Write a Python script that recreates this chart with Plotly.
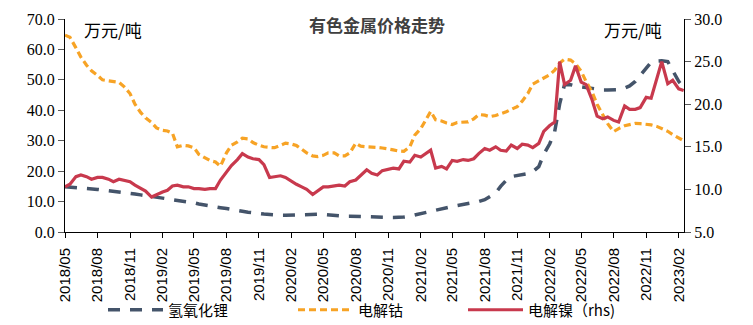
import pandas as pd
import plotly.graph_objects as go

# semi-monthly observation dates (1st and 15th), 2018/05 - 2023/02
dates = pd.date_range("2018-05-01", "2023-02-15", freq="SMS")

# 氢氧化锂 (万元/吨, left axis)
lithium = [
    14.9, 14.8, 14.6, 14.4, 14.3, 14.1, 14.0, 13.8, 13.6, 13.3,
    13.1, 12.9, 12.8, 12.5, 12.2, 12.0, 11.7, 11.4, 11.1, 10.9,
    10.6, 10.4, 10.2, 10.0, 9.6, 9.2, 8.8, 8.5, 8.3, 8.0,
    7.7, 7.5, 7.1, 6.8, 6.5, 6.2, 6.1, 5.9, 5.7, 5.6,
    5.5, 5.5, 5.6, 5.7, 5.8, 5.8, 5.8, 5.8, 5.8, 5.6,
    5.5, 5.3, 5.2, 5.2, 5.1, 5.0, 5.0, 5.0, 4.9, 4.9,
    4.8, 4.8, 4.8, 4.9, 5.2, 5.6, 5.9, 6.4, 6.8, 7.2,
    7.6, 8.0, 8.4, 8.7, 9.0, 9.3, 9.6, 10.0, 10.6, 11.5,
    12.8, 15.0, 17.0, 18.2, 18.5, 18.8, 19.2, 19.8, 21.5, 25.5,
    29.0, 33.0, 42.0, 48.5, 48.4, 48.0, 47.7, 47.4, 47.0, 46.8,
    46.7, 46.7, 46.7, 46.8, 47.3, 48.0, 49.5, 51.5, 53.8, 55.8,
    56.2, 56.3, 56.0, 53.0, 49.5, 47.5,
]

# 电解钴 (万元/吨, left axis)
cobalt = [
    64.7, 64.0, 60.5, 57.5, 54.8, 53.0, 51.5, 50.0, 49.7, 49.5,
    49.2, 47.8, 45.5, 42.0, 39.3, 37.5, 36.0, 34.2, 33.4, 33.2,
    32.5, 28.0, 28.5, 28.3, 27.7, 25.5, 24.5, 23.5, 23.0, 21.6,
    26.0, 28.5, 29.6, 30.8, 30.6, 29.4, 28.5, 28.0, 27.8, 27.7,
    28.5, 29.2, 28.9, 28.4, 27.2, 26.0, 25.0, 24.8, 25.2, 26.0,
    26.0, 25.0, 25.0, 26.0, 29.2, 28.2, 28.0, 28.0, 27.8, 27.6,
    27.4, 27.0, 26.6, 26.5, 28.0, 31.8, 34.0, 37.0, 39.6, 36.9,
    36.5, 35.8, 35.3, 36.0, 36.1, 36.2, 37.2, 38.6, 38.4, 37.9,
    38.3, 38.8, 39.5, 40.3, 41.2, 43.0, 45.5, 48.6, 49.8, 50.8,
    51.7, 53.2, 55.5, 56.8, 56.5, 55.3, 52.8, 49.4, 46.0, 42.0,
    38.5, 35.6, 33.0, 34.0, 34.9, 35.3, 35.7, 35.6, 35.4, 35.2,
    34.7, 34.0, 33.1, 32.0, 31.0, 30.0,
]

# 电解镍 (万元/吨, right axis)
nickel = [
    10.3, 10.6, 11.5, 11.7, 11.5, 11.2, 11.4, 11.4, 11.2, 10.9,
    11.2, 11.1, 10.9, 10.5, 10.1, 9.8, 9.1, 9.4, 9.7, 9.9,
    10.4, 10.5, 10.3, 10.3, 10.1, 10.1, 10.0, 10.1, 10.1, 11.1,
    12.0, 12.8, 13.5, 14.2, 13.8, 13.6, 13.5, 12.9, 11.4, 11.5,
    11.6, 11.4, 10.9, 10.6, 10.3, 10.0, 9.4, 9.8, 10.3, 10.3,
    10.4, 10.5, 10.4, 10.9, 11.1, 11.6, 12.3, 11.9, 11.7, 12.2,
    12.4, 12.5, 12.4, 13.3, 13.2, 14.0, 13.8, 14.2, 14.6, 12.5,
    12.7, 12.4, 13.4, 13.3, 13.5, 13.4, 13.6, 14.2, 14.8, 14.6,
    15.0, 14.6, 14.5, 15.2, 14.8, 15.3, 15.2, 14.9, 15.4, 16.8,
    17.5, 17.9, 25.0, 22.3, 22.8, 24.5, 22.6, 22.3, 20.5, 18.6,
    18.3, 18.5, 18.1, 17.9, 19.8, 19.4, 19.4, 19.6, 20.8, 20.7,
    23.0, 25.0, 22.4, 22.8, 21.8, 21.6,
]

names = ["氢氧化锂", "电解钴", "电解镍（rhs)"]
colors = ["#44546A", "#F7A325", "#C8394D"]

fig = go.Figure()
fig.add_trace(go.Scatter(x=dates, y=lithium, name=names[0], mode="lines",
                         line=dict(color=colors[0], width=3.5, dash="12px,10px"),
                         legend="legend"))
fig.add_trace(go.Scatter(x=dates, y=cobalt, name=names[1], mode="lines",
                         line=dict(color=colors[1], width=3.2, dash="7px,4px"),
                         legend="legend2"))
fig.add_trace(go.Scatter(x=dates, y=nickel, name=names[2], mode="lines",
                         line=dict(color=colors[2], width=3.2),
                         yaxis="y2", legend="legend3"))

tick_font = dict(family="Liberation Serif", size=16, color="#000000")
cjk = "Noto Sans CJK SC"
W, H = 753, 325
leg_common = dict(orientation="h", xref="container", yref="container",
                  yanchor="middle", y=(H - 310) / H, xanchor="left",
                  itemwidth=55,
                  font=dict(family=cjk, size=15, color="#000000"),
                  bgcolor="rgba(0,0,0,0)")

fig.update_layout(
    width=W, height=H,
    margin=dict(l=65, r=69, t=19, b=93),
    paper_bgcolor="white", plot_bgcolor="white",
    showlegend=True,
    xaxis=dict(
        type="date",
        range=["2018-05-01", "2023-02-16"],
        tickmode="linear", tick0="2018-05-01", dtick="M3",
        tickformat="%Y/%m", tickangle=-90, ticklabelstandoff=4,
        showline=True, linecolor="#000000", linewidth=1,
        ticks="outside", ticklen=5, tickcolor="#000000",
        showgrid=False, zeroline=False, automargin=False,
        tickfont=dict(family="Liberation Sans", size=15, color="#000000"),
    ),
    yaxis=dict(
        range=[0, 70], dtick=10, tickformat=".1f",
        showline=True, linecolor="#000000", linewidth=1,
        ticks="outside", ticklen=6, tickcolor="#595959",
        showgrid=False, zeroline=False, automargin=False, tickfont=tick_font,
    ),
    yaxis2=dict(
        range=[5, 30], dtick=5, tick0=5, tickformat=".1f",
        overlaying="y", side="right",
        showline=True, linecolor="#000000", linewidth=1,
        ticks="outside", ticklen=6, tickcolor="#595959",
        showgrid=False, zeroline=False, automargin=False, tickfont=tick_font,
    ),
    legend=dict(x=103 / W, **leg_common),
    legend2=dict(x=293 / W, **leg_common),
    legend3=dict(x=463 / W, **leg_common),
    annotations=[
        dict(text="<b>有色金属价格走势</b>", xref="paper", yref="paper",
             x=(377 - 65) / 619, y=(232 - 25) / 213, xanchor="center", yanchor="middle",
             showarrow=False, font=dict(family=cjk, size=17, color="#404040")),
        dict(text="万元/吨", xref="paper", yref="paper",
             x=(113 - 65) / 619, y=(232 - 30) / 213, xanchor="center", yanchor="middle",
             showarrow=False, font=dict(family=cjk, size=17, color="#000000")),
        dict(text="万元/吨", xref="paper", yref="paper",
             x=(633 - 65) / 619, y=(232 - 30) / 213, xanchor="center", yanchor="middle",
             showarrow=False, font=dict(family=cjk, size=17, color="#000000")),
    ],
)

fig.write_html("out.html")
